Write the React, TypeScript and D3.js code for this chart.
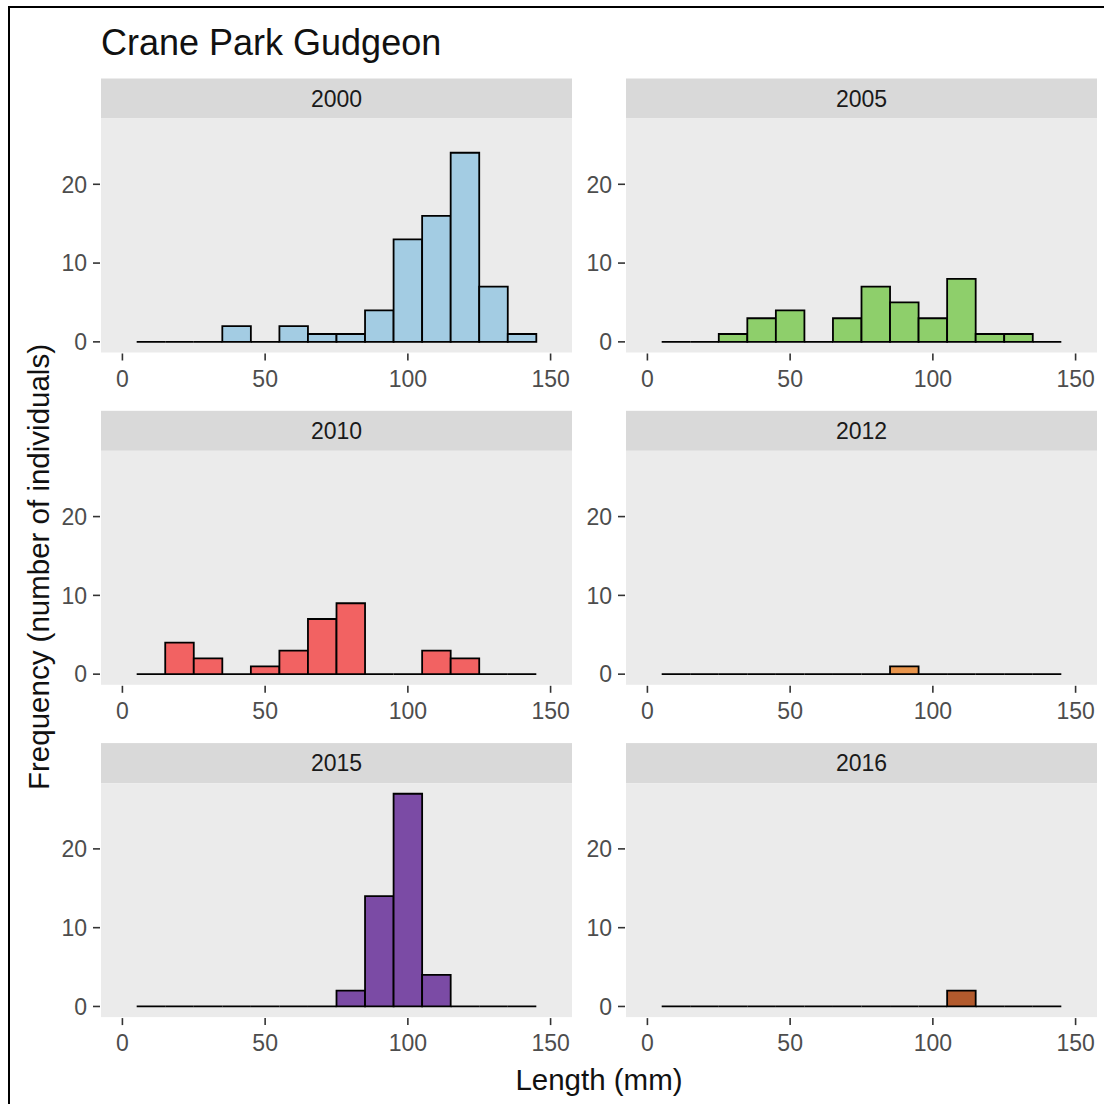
import React from 'react';
import * as d3 from 'd3';

// Histogram bins (mm): centres, width 10
const binCenters = [10, 20, 30, 40, 50, 60, 70, 80, 90, 100, 110, 120, 130, 140];
const binWidth = 10;

const years = ['2000', '2005', '2010', '2012', '2015', '2016'];
const counts2000 = [0, 0, 0, 2, 0, 2, 1, 1, 4, 13, 16, 24, 7, 1];
const counts2005 = [0, 0, 1, 3, 4, 0, 3, 7, 5, 3, 8, 1, 1, 0];
const counts2010 = [0, 4, 2, 0, 1, 3, 7, 9, 0, 0, 3, 2, 0, 0];
const counts2012 = [0, 0, 0, 0, 0, 0, 0, 0, 1, 0, 0, 0, 0, 0];
const counts2015 = [0, 0, 0, 0, 0, 0, 0, 2, 14, 27, 4, 0, 0, 0];
const counts2016 = [0, 0, 0, 0, 0, 0, 0, 0, 0, 0, 2, 0, 0, 0];
const yearCounts = [counts2000, counts2005, counts2010, counts2012, counts2015, counts2016];
const yearFills = ['#A3CCE3', '#8ECF6B', '#F26262', '#E9954C', '#7B4BA5', '#B25A2D'];

const xTicks = [0, 50, 100, 150];
const yTicks = [0, 10, 20];

const title = 'Crane Park Gudgeon';
const xTitle = 'Length (mm)';
const yTitle = 'Frequency (number of individuals)';

const W = 1104;
const H = 1104;
const FONT = '"Liberation Sans", Arial, Helvetica, sans-serif';

const colLeft = [101, 626];
const panelW = 471;
const rowTop = [118.5, 450.8, 783.1];
const panelH = 234;
const stripH = 40;

export default function App() {
  const maxCount = d3.max(yearCounts.flat()) as number;
  const x = d3.scaleLinear().domain([-7.5, 157.5]).range([0, panelW]);
  const y = d3.scaleLinear().domain([-0.05 * maxCount, maxCount * 1.05]).range([panelH, 0]);

  return (
    <svg
      width={W}
      height={H}
      style={{ position: 'absolute', left: 0, top: 0, background: '#fff' }}
      fontFamily={FONT}
    >
      <rect x={0} y={0} width={W} height={H} fill="#fff" />
      <rect x={9} y={7} width={W + 50} height={H + 50} fill="none" stroke="#000" strokeWidth={2} />
      <text x={101} y={55} fontSize={36} fill="#111">{title}</text>

      {years.map((yr, i) => {
        const col = i % 2;
        const row = Math.floor(i / 2);
        const px = colLeft[col];
        const py = rowTop[row];
        const counts = yearCounts[i];
        return (
          <g key={yr} transform={`translate(${px},${py})`}>
            <rect x={0} y={-stripH} width={panelW} height={stripH} fill="#D9D9D9" />
            <text
              x={panelW / 2}
              y={-stripH / 2}
              dy="0.35em"
              textAnchor="middle"
              fontSize={23}
              fill="#1A1A1A"
            >
              {yr}
            </text>
            <rect x={0} y={0} width={panelW} height={panelH} fill="#EBEBEB" />
            {binCenters.map((c, j) => {
              const x0 = x(c - binWidth / 2);
              const x1 = x(c + binWidth / 2);
              const y0 = y(counts[j]);
              const yb = y(0);
              const p = d3.path();
              p.moveTo(x0, yb);
              p.lineTo(x0, y0);
              p.lineTo(x1, y0);
              p.lineTo(x1, yb);
              p.closePath();
              return (
                <path
                  key={c}
                  d={p.toString()}
                  fill={yearFills[i]}
                  stroke="#000"
                  strokeWidth={1.8}
                />
              );
            })}
            {yTicks.map((t) => (
              <g key={t} transform={`translate(0,${y(t)})`}>
                <line x1={-8} x2={-1} stroke="#333" strokeWidth={1.6} />
                <text x={-14} dy="0.36em" textAnchor="end" fontSize={23} fill="#4D4D4D">
                  {t}
                </text>
              </g>
            ))}
            {xTicks.map((t) => (
              <g key={t} transform={`translate(${x(t)},${panelH})`}>
                <line y1={1} y2={8} stroke="#333" strokeWidth={1.6} />
                <text y={34} textAnchor="middle" fontSize={23} fill="#4D4D4D">
                  {t}
                </text>
              </g>
            ))}
          </g>
        );
      })}

      <text x={599} y={1090} textAnchor="middle" fontSize={29.5} fill="#111">
        {xTitle}
      </text>
      <text
        transform={`translate(49,567) rotate(-90)`}
        textAnchor="middle"
        fontSize={29.5}
        fill="#111"
      >
        {yTitle}
      </text>
    </svg>
  );
}
